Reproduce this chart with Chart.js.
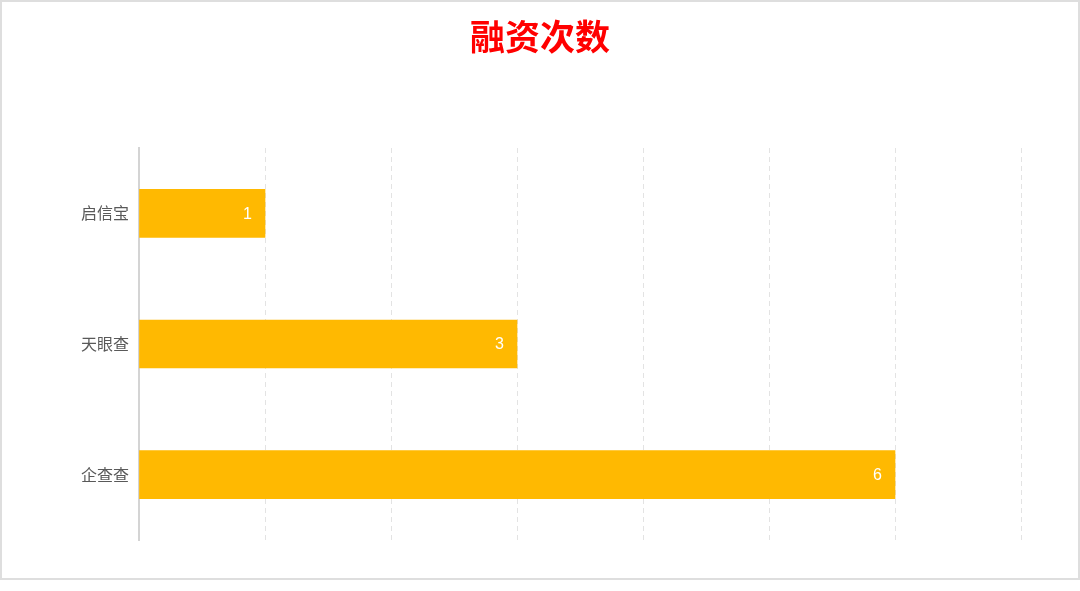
<!DOCTYPE html>
<html>
<head>
<meta charset="utf-8">
<script src="https://cdn.jsdelivr.net/npm/chart.js@4"></script>
<style>
    body { margin: 0; background: #fff; }
    #wrap { position: relative; width: 1080px; height: 591px; }
    #frame {
        position: absolute; left: 0; top: 0; width: 1080px; height: 580px;
        box-sizing: border-box; border: 2px solid #dedede; pointer-events: none;
    }
</style>
</head>
<body>
<div id="wrap">
    <canvas id="grafico" width="1080" height="591"></canvas>
    <div id="frame"></div>
</div>
<script>
const categorias = ['启信宝', '天眼查', '企查查'];
const valores    = [1, 3, 6];
const eixoMax    = 7;

// rótulos brancos no fim de cada barra
const rotulosValor = {
    id: 'rotulosValor',
    afterDatasetsDraw(chart) {
        const ctx = chart.ctx;
        const meta = chart.getDatasetMeta(0);
        ctx.save();
        ctx.fillStyle = '#ffffff';
        ctx.font = '16px "Liberation Sans", Arial, sans-serif';
        ctx.textAlign = 'right';
        ctx.textBaseline = 'middle';
        meta.data.forEach((bar, i) => {
            ctx.fillText(String(valores[i]), bar.x - 13, bar.y + 1);
        });
        ctx.restore();
    }
};

new Chart(document.getElementById('grafico').getContext('2d'), {
    type: 'bar',
    data: {
        labels: categorias,
        datasets: [{
            data: valores,
            backgroundColor: '#ffb901',
            barThickness: 48
        }]
    },
    options: {
        indexAxis: 'y',
        responsive: false,
        animation: false,
        layout: { padding: { left: 59, right: 59, top: 0, bottom: 51 } },
        plugins: {
            legend: { display: false },
            tooltip: { enabled: false },
            title: {
                display: true,
                text: '融资次数',
                color: '#ff0000',
                font: { size: 35, weight: 'bold', family: '"Noto Sans CJK SC", sans-serif' },
                padding: { top: 16, bottom: 90 }
            }
        },
        scales: {
            x: {
                min: 0,
                max: eixoMax,
                ticks: { display: false, stepSize: 1 },
                grid: {
                    drawTicks: false,
                    color: c => c.index === 0 ? 'transparent' : '#e3e3e3',
                    lineWidth: 1
                },
                border: { display: false, dash: [5, 4] }
            },
            y: {
                grid: { display: false, drawTicks: false },
                border: { display: true, color: '#d4d4d4', width: 2 },
                ticks: {
                    color: '#595959',
                    padding: 10,
                    font: { size: 16, family: '"Noto Sans CJK SC", sans-serif' }
                },
                afterFit: s => { s.width = 80; }
            }
        }
    },
    plugins: [rotulosValor]
});
</script>
</body>
</html>
